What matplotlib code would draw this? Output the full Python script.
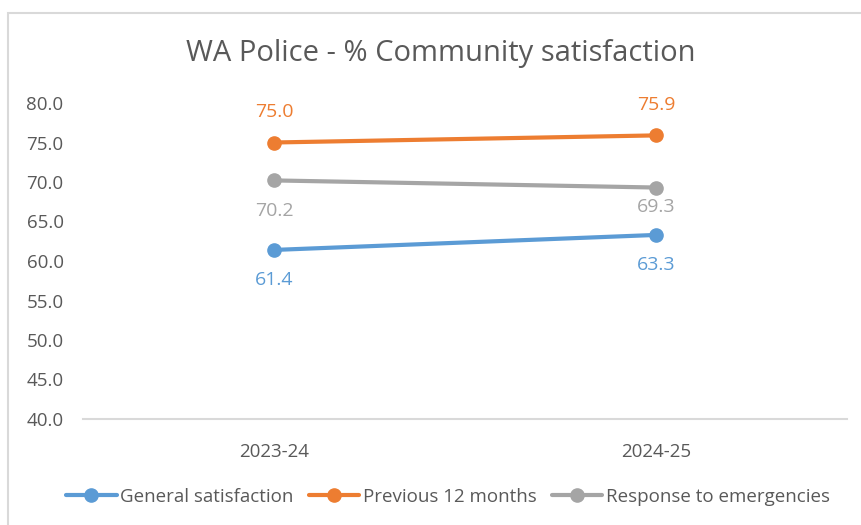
import matplotlib.pyplot as plt
from matplotlib.patches import Rectangle

# Datos
years = ['2023-24', '2024-25']
general = [61.4, 63.3]
previous_12 = [75.0, 75.9]
emergencies = [70.2, 69.3]

plt.rcParams['font.family'] = ['Open Sans', 'DejaVu Sans']
text_col = '#595959'

fig = plt.figure(figsize=(8.61, 5.25), dpi=100)
ax = fig.add_axes([83/861, 1 - 419/525, (847 - 83)/861, (419 - 103)/525])

# marco del gráfico
fig.patches.append(Rectangle((8/861, -0.05), 1.1, 1 - 13/525 + 0.05,
                             transform=fig.transFigure, fill=False,
                             edgecolor='#d9d9d9', linewidth=1.5))

x = range(len(years))
series = [
    ('General satisfaction', general, '#5B9BD5', [-22, -22]),
    ('Previous 12 months', previous_12, '#ED7D31', [22, 22]),
    ('Response to emergencies', emergencies, '#A5A5A5', [-22, -14]),
]
for name, vals, col, offs in series:
    ax.plot(x, vals, color=col, linewidth=3, marker='o', markersize=9.5,
            solid_capstyle='round', label=name)
    for xi, v, o in zip(x, vals, offs):
        ax.annotate(f'{v:.1f}', (xi, v), xytext=(0, o), textcoords='offset points',
                    ha='center', va='center', color=col, fontsize=14)

ax.set_xlim(-0.5, 1.5)
ax.set_ylim(40, 80)
ax.set_yticks(range(40, 81, 5))
ax.set_yticklabels([f'{t:.1f}' for t in range(40, 81, 5)])
ax.set_xticks(list(x))
ax.set_xticklabels(years)
ax.tick_params(axis='both', length=0, labelsize=13.5, colors=text_col)
ax.tick_params(axis='y', pad=14)
ax.tick_params(axis='x', pad=17)
for s in ['top', 'right', 'left']:
    ax.spines[s].set_visible(False)
ax.spines['bottom'].set_color('#d9d9d9')
ax.spines['bottom'].set_linewidth(1.5)

fig.text(441/861, 1 - 53/525, 'WA Police - % Community satisfaction',
         ha='center', va='center', fontsize=21, color=text_col)

fig.legend(loc='center', bbox_to_anchor=(448/861, 1 - 497/525), ncol=3,
           frameon=False, fontsize=13.5, handlelength=2.7, columnspacing=0.8,
           handletextpad=0.2, labelcolor=text_col)

fig.savefig('out.png', dpi=100)
